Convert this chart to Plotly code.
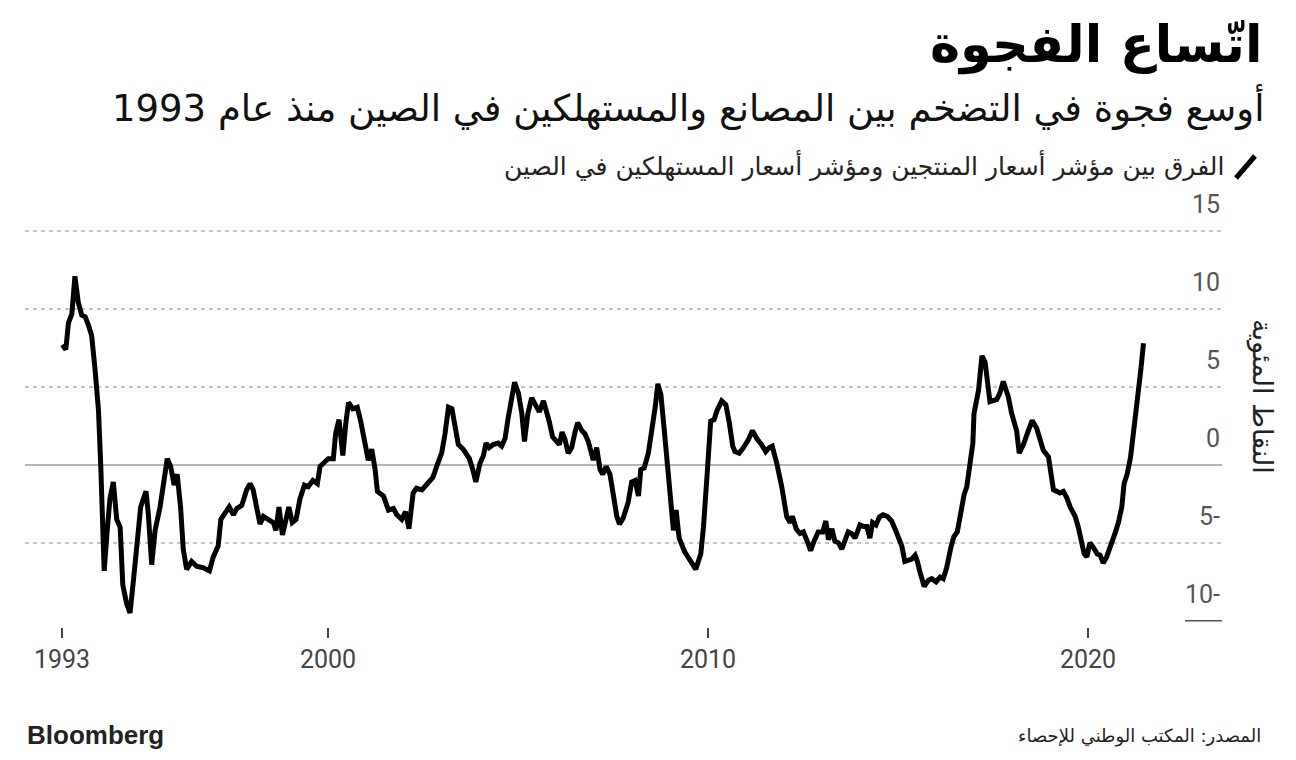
import plotly.graph_objects as go

# ---- data ----
dates = [
    1993.01, 1993.10, 1993.17, 1993.26, 1993.34, 1993.43, 1993.52, 1993.61, 1993.69, 1993.78, 1993.87, 1993.96,
    1994.02, 1994.06, 1994.11, 1994.19, 1994.26, 1994.35, 1994.44, 1994.53, 1994.60, 1994.70, 1994.79, 1994.88, 1994.98,
    1995.07, 1995.21, 1995.27, 1995.36, 1995.45, 1995.58, 1995.67, 1995.77, 1995.86, 1995.95,
    1996.03, 1996.12, 1996.19, 1996.28, 1996.41, 1996.54, 1996.72, 1996.88, 1996.98,
    1997.11, 1997.18, 1997.29, 1997.40, 1997.51, 1997.60, 1997.73, 1997.86, 1997.95,
    1998.03, 1998.12, 1998.21, 1998.30, 1998.43, 1998.56, 1998.63, 1998.71, 1998.80, 1998.89, 1998.97,
    1999.06, 1999.16, 1999.26, 1999.38, 1999.48, 1999.60, 1999.72, 1999.79, 1999.92,
    2000.01, 2000.14, 2000.20, 2000.29, 2000.39, 2000.47, 2000.54, 2000.65, 2000.77, 2000.86, 2000.97,
    2001.06, 2001.15, 2001.24, 2001.30, 2001.46, 2001.59, 2001.72, 2001.81, 2001.94,
    2002.04, 2002.13, 2002.24, 2002.33, 2002.47, 2002.60, 2002.76, 2002.86, 2002.99,
    2003.08, 2003.17, 2003.26, 2003.34, 2003.43, 2003.56, 2003.72, 2003.81, 2003.89,
    2004.00, 2004.09, 2004.16, 2004.24, 2004.35, 2004.48, 2004.57, 2004.66, 2004.74, 2004.83, 2004.91,
    2005.01, 2005.10, 2005.17, 2005.26, 2005.36, 2005.45, 2005.56, 2005.67, 2005.74, 2005.82, 2005.91,
    2006.02, 2006.09, 2006.16, 2006.24, 2006.32, 2006.41, 2006.50, 2006.57, 2006.68, 2006.76, 2006.85, 2006.98,
    2007.07, 2007.16, 2007.23, 2007.32, 2007.42, 2007.53, 2007.60, 2007.67, 2007.77, 2007.90, 2007.99,
    2008.08, 2008.17, 2008.23, 2008.32, 2008.43, 2008.52, 2008.61, 2008.68, 2008.76, 2008.85, 2008.96,
    2009.09, 2009.16, 2009.24, 2009.39, 2009.53, 2009.68, 2009.81, 2009.88, 2009.98,
    2010.07, 2010.16, 2010.24, 2010.36, 2010.47, 2010.56, 2010.65, 2010.71, 2010.82, 2010.93,
    2011.06, 2011.17, 2011.28, 2011.41, 2011.52, 2011.61, 2011.69, 2011.81, 2011.94,
    2012.07, 2012.16, 2012.22, 2012.32, 2012.42, 2012.51, 2012.61, 2012.70, 2012.79, 2012.90,
    2013.02, 2013.10, 2013.17, 2013.26, 2013.34, 2013.43, 2013.52, 2013.61, 2013.69, 2013.78, 2013.87,
    2014.00, 2014.09, 2014.18, 2014.26, 2014.33, 2014.42, 2014.51, 2014.61, 2014.72, 2014.83, 2014.92,
    2015.01, 2015.10, 2015.18, 2015.27, 2015.36, 2015.45, 2015.51, 2015.58, 2015.69, 2015.80, 2015.89,
    2016.00, 2016.11, 2016.19, 2016.28, 2016.39, 2016.47, 2016.56, 2016.65, 2016.74, 2016.81, 2016.89, 2016.97,
    2017.00, 2017.07, 2017.12, 2017.18, 2017.21, 2017.29, 2017.42, 2017.60, 2017.68, 2017.77, 2017.90, 2017.99,
    2018.05, 2018.12, 2018.19, 2018.30, 2018.43, 2018.53, 2018.65, 2018.74, 2018.82, 2018.96,
    2019.02, 2019.09, 2019.18, 2019.26, 2019.35, 2019.44, 2019.53, 2019.66, 2019.74, 2019.83, 2019.90, 2019.97,
    2020.05, 2020.14, 2020.24, 2020.32, 2020.40, 2020.49, 2020.60, 2020.71, 2020.80, 2020.89, 2020.95,
    2021.03, 2021.12, 2021.21, 2021.30, 2021.39, 2021.46,
]

ppi_cpi_gap = [
    7.7, 7.4, 9.1, 9.7, 12.1, 10.4, 9.6, 9.5, 9.0, 8.3, 6.1, 3.5,
    -0.1, -4.0, -6.8, -4.2, -2.2, -1.1, -3.5, -4.0, -7.7, -8.9, -9.5, -7.4, -5.0,
    -2.7, -1.7, -3.1, -6.4, -4.2, -2.7, -1.0, 0.4, -0.1, -1.3,
    -0.6, -2.7, -5.4, -6.7, -6.2, -6.5, -6.6, -6.8, -5.9,
    -5.2, -3.5, -3.1, -2.7, -3.2, -2.8, -2.6, -1.6, -1.2,
    -1.6, -2.7, -3.8, -3.3, -3.5, -3.7, -4.2, -2.7, -4.5, -3.7, -2.7,
    -3.7, -3.5, -2.2, -1.3, -1.4, -1.0, -1.2, -0.1, 0.2,
    0.4, 0.4, 2.0, 2.9, 0.6, 2.7, 4.0, 3.6, 3.7, 2.8, 1.4,
    0.3, 1.0, -0.3, -1.7, -2.0, -2.9, -2.8, -3.2, -3.5,
    -3.0, -4.1, -1.8, -1.5, -1.6, -1.2, -0.8, -0.1, 0.75,
    2.0, 3.7, 3.6, 2.5, 1.3, 1.0, 0.4, -0.3, -1.1,
    0.1, 0.6, 1.4, 1.1, 1.3, 1.4, 1.2, 1.7, 3.0, 4.4, 5.3,
    4.6, 3.3, 1.5, 3.3, 4.3, 3.85, 3.4, 4.1, 3.6, 2.8, 1.8,
    1.5, 1.3, 2.1, 1.6, 0.75, 1.1, 2.1, 2.7, 2.2, 2.0, 1.5, 0.3,
    1.1, -0.3, -0.6, -0.1, -0.6, -2.2, -3.3, -3.8, -3.4, -2.4, -1.1,
    -1.0, -2.0, -0.3, -0.2, 0.75, 2.0, 3.7, 5.2, 4.5, 2.2, -0.85,
    -4.2, -2.9, -4.7, -5.6, -6.2, -6.7, -5.7, -4.0, -0.5,
    2.8, 2.9, 3.5, 4.1, 3.85, 2.7, 1.2, 0.85, 0.75, 1.1,
    1.6, 2.2, 1.7, 1.3, 0.85, 1.1, 1.2, 0.1, -1.4,
    -3.3, -3.7, -3.3, -4.1, -4.4, -4.3, -4.9, -5.5, -4.9, -4.3,
    -4.3, -3.6, -4.8, -4.1, -4.9, -5.0, -5.4, -4.8, -4.3, -4.4, -4.7,
    -3.85, -3.95, -3.95, -4.7, -3.7, -3.85, -3.35, -3.2, -3.3, -3.6, -4.1,
    -4.7, -5.2, -6.2, -6.1, -6.05, -5.8, -6.2, -6.9, -7.8, -7.4, -7.3,
    -7.5, -7.2, -7.3, -6.6, -5.3, -4.6, -4.3, -3.0, -1.9, -1.4, -0.1, 1.4,
    3.3, 4.0, 4.8, 6.3, 7.0, 6.6, 4.05, 4.2, 4.6, 5.35, 4.4, 3.3,
    2.9, 2.2, 0.75, 1.3, 2.2, 2.85, 2.35, 1.6, 0.96, 0.5,
    -0.75, -1.6, -1.7, -1.8, -1.7, -2.1, -2.7, -3.3, -3.95, -4.8, -5.7, -5.9,
    -5.0, -5.3, -5.7, -5.8, -6.3, -5.9, -5.2, -4.4, -3.7, -2.7, -1.2,
    -0.6, 0.5, 2.2, 4.2, 6.1, 7.8,
]

x_tick_vals = [1993, 2000, 2010, 2020]
x_tick_text = ["1993", "2000", "2010", "2020"]
y_tick_vals = [15, 10, 5, 0, -5, -10]
y_tick_text = ["15", "10", "5", "0", "5-", "10-"]

title = "اتّساع الفجوة"
subtitle = "أوسع فجوة في التضخم بين المصانع والمستهلكين في الصين منذ عام 1993"
legend_text = "الفرق بين مؤشر أسعار المنتجين ومؤشر أسعار المستهلكين في الصين"
y_title = "النقاط المئوية"
source = "المصدر: المكتب الوطني للإحصاء"
brand = "Bloomberg"

# ---- layout geometry ----
W, H = 1296, 760
L, R, T, B = 25, 74, 229, 133
PW, PH = W - L - R, H - T - B


def px(x):
    return (x - L) / PW


def py(y):
    return (H - B - y) / PH


AR_FONT = "DejaVu Sans"
NUM_FONT = "Roboto, Liberation Sans"

fig = go.Figure()
fig.add_trace(go.Scatter(
    x=dates, y=ppi_cpi_gap, mode="lines",
    line=dict(color="#000000", width=5),
    hoverinfo="skip", showlegend=False,
))

fig.update_layout(
    width=W, height=H,
    margin=dict(l=L, r=R, t=T, b=B, autoexpand=False),
    paper_bgcolor="white", plot_bgcolor="white",
    showlegend=False,
    xaxis=dict(
        range=[1992.026, 2023.526],
        tickvals=x_tick_vals, ticktext=x_tick_text,
        showgrid=False, zeroline=False, showline=False,
        ticks="outside", ticklen=10, tickwidth=1.5, tickcolor="#444",
        tickfont=dict(family=NUM_FONT, size=25, color="#444"),
        fixedrange=True,
    ),
    yaxis=dict(
        range=[-10.4, 15.13],
        tickvals=[v for v in y_tick_vals if v not in (0, -10)],
        showticklabels=False, ticks="",
        showgrid=True, gridcolor="#c4c4c4", gridwidth=1.5, griddash="4px,4px",
        zeroline=True, zerolinecolor="#b5b5b5", zerolinewidth=1.5,
        showline=False, fixedrange=True,
    ),
)

# short baseline segment under the lowest label
fig.add_shape(type="line", xref="paper", yref="y",
              x0=px(1185), x1=1.0, y0=-10, y1=-10,
              line=dict(color="#555", width=1.5))

# y tick labels above their gridlines, right-aligned
for v, t in zip(y_tick_vals, y_tick_text):
    fig.add_annotation(x=1.0, xref="paper", y=v, yref="y",
                       text=t, showarrow=False, xanchor="right", yanchor="bottom",
                       yshift=10, font=dict(family=NUM_FONT, size=25, color="#555"))

# y axis title (rotated)
fig.add_annotation(x=px(1262), xref="paper", y=py(396), yref="paper",
                   text=y_title, showarrow=False, textangle=90,
                   xanchor="center", yanchor="middle",
                   font=dict(family=AR_FONT, size=27, color="#222"))

# title, subtitle, legend
fig.add_annotation(x=px(1264), xref="paper", y=py(45), yref="paper",
                   text="<b>" + title + "</b>", showarrow=False,
                   xanchor="right", yanchor="middle",
                   font=dict(family=AR_FONT, size=51, color="#000"))
fig.add_annotation(x=px(1266), xref="paper", y=py(107), yref="paper",
                   text=subtitle, showarrow=False,
                   xanchor="right", yanchor="middle",
                   font=dict(family=AR_FONT, size=37, color="#111"))
fig.add_annotation(x=px(1226), xref="paper", y=py(165), yref="paper",
                   text=legend_text, showarrow=False,
                   xanchor="right", yanchor="middle",
                   font=dict(family=AR_FONT, size=25, color="#222"))
fig.add_shape(type="line", xref="paper", yref="paper",
              x0=px(1236), y0=py(178), x1=px(1255), y1=py(156),
              line=dict(color="#000", width=5))

# footer
fig.add_annotation(x=px(25), xref="paper", y=py(735), yref="paper",
                   text="<b>" + brand + "</b>", showarrow=False,
                   xanchor="left", yanchor="middle",
                   font=dict(family="Liberation Sans, Arial", size=26, color="#222"))
fig.add_annotation(x=px(1263), xref="paper", y=py(736), yref="paper",
                   text=source, showarrow=False,
                   xanchor="right", yanchor="middle",
                   font=dict(family=AR_FONT, size=18, color="#222"))

fig.write_html("out.html")
